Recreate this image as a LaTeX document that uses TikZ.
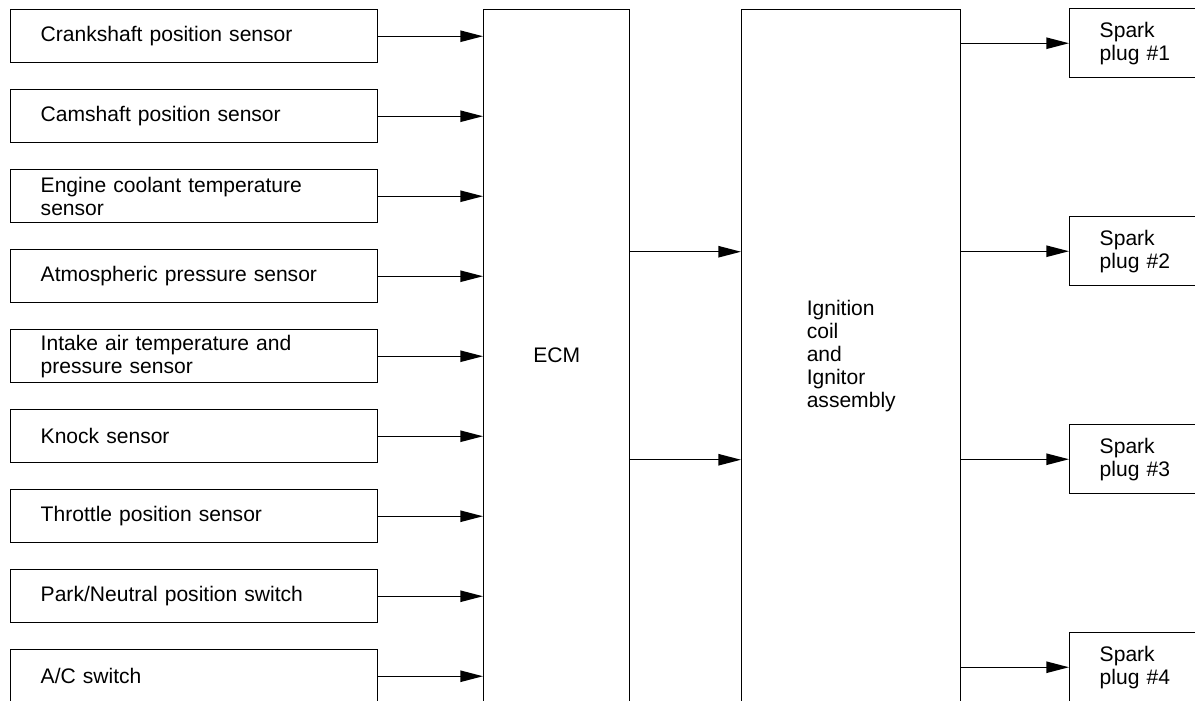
\documentclass[tikz,border=0pt]{standalone}
\usepackage{fontspec}
\setmainfont{Liberation Sans}
\usetikzlibrary{arrows.meta}
\begin{document}
\begin{tikzpicture}[x=0.75pt,y=-0.75pt,line width=1.1pt,
    font=\fontsize{15.8}{17.3}\selectfont,
    sensor/.style={draw, rectangle, anchor=north west, minimum width=275.25pt,
      minimum height=39.75pt, text width=230.25pt, inner xsep=22.5pt, align=left},
    unit/.style={draw, rectangle, anchor=north west, minimum height=519pt, align=left},
    plug/.style={draw, rectangle, anchor=north west, minimum width=113.25pt,
      minimum height=51.75pt, text width=68.25pt, inner xsep=22.5pt, align=left},
    feed/.style={-{Triangle[length=17pt,width=8.5pt]}}]
      % Fix the frame of the picture
      \useasboundingbox (0,0) rectangle (1195,700);
      \clip (0,0) rectangle (1195,700);

      % Draw the sensor and switch boxes
      \node[sensor] (crank) at (10,9) {Crankshaft position sensor};
      \node[sensor] (cam) at (10,89) {Camshaft position sensor};
      \node[sensor] (coolant) at (10,169) {Engine coolant temperature\\sensor};
      \node[sensor] (atmos) at (10,249) {Atmospheric pressure sensor};
      \node[sensor] (intake) at (10,329) {Intake air temperature and\\pressure sensor};
      \node[sensor] (knock) at (10,409) {Knock sensor};
      \node[sensor] (throttle) at (10,489) {Throttle position sensor};
      \node[sensor] (park) at (10,569) {Park/Neutral position switch};
      \node[sensor] (ac) at (10,649) {A/C switch};

      % Draw the ECM and the ignition coil assembly
      \node[unit, minimum width=109.5pt] (ecm) at (483,9) {ECM};
      \node[unit, minimum width=164.25pt] (ign) at (741,9)
        {Ignition\\coil\\and\\Ignitor\\assembly};

      % Draw the spark plug boxes
      \node[plug] (plug1) at (1069,8) {Spark\\plug \#1};
      \node[plug] (plug2) at (1069,216) {Spark\\plug \#2};
      \node[plug] (plug3) at (1069,424) {Spark\\plug \#3};
      \node[plug] (plug4) at (1069,632) {Spark\\plug \#4};

      % Connect the inputs to the ECM
      \foreach \s in {crank,cam,coolant,atmos,intake,knock,throttle,park,ac}
        \draw[feed] (\s.east) -- (\s.east -| ecm.west);

      % Connect the ECM to the ignition coil assembly
      \draw[feed] ([yshift=78pt]ecm.east) -- ([yshift=78pt]ign.west);
      \draw[feed] ([yshift=-78pt]ecm.east) -- ([yshift=-78pt]ign.west);

      % Connect the ignition coil assembly to the spark plugs
      \foreach \p in {plug1,plug2,plug3,plug4}
        \draw[feed] (\p.west -| ign.east) -- (\p.west);
    \end{tikzpicture}
\end{document}
